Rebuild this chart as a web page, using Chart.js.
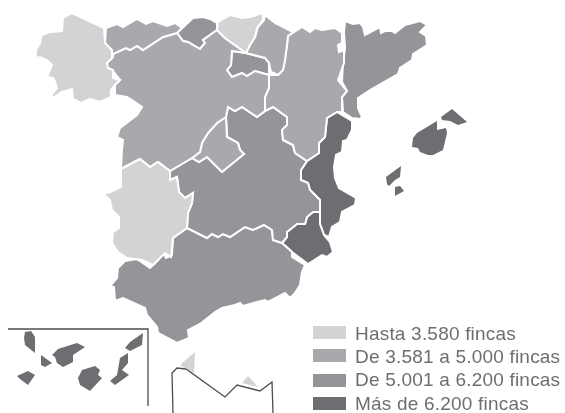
<!DOCTYPE html>
<html lang="es">
<head>
<meta charset="utf-8">
<title>Fincas por comunidad</title>
<script src="https://cdn.jsdelivr.net/npm/chart.js@4/dist/chart.umd.min.js"></script>
<style>
  html, body { margin: 0; padding: 0; background: #fff; }
  #wrap { position: relative; width: 565px; height: 413px; overflow: hidden; }
  #mapa { display: block; }
  .ley-sw { position: absolute; left: 313px; width: 33px; height: 13px; }
  .ley-tx { position: absolute; left: 355px; font: 19px/20px "Liberation Sans", sans-serif; letter-spacing: 0.2px; color: #6d6e71; white-space: nowrap; }
</style>
</head>
<body>
<div id="wrap">
  <canvas id="mapa" width="565" height="413"></canvas>
</div>
<script>
// Legend
const tramos = ['Hasta 3.580 fincas', 'De 3.581 a 5.000 fincas', 'De 5.001 a 6.200 fincas', 'Más de 6.200 fincas'];
const colores = ['#d1d3d4', '#a7a9ac', '#939598', '#6d6e71'];

// Region outlines, as [x, y] on the map axes
const galicia = [[72,13],[104,28],[105,43],[112,50],[112,58],[107,63],[108,68],[113,70],[113,78],[120,80],[115,85],[111,90],[111,97],[100,102],[90,99],[81,103],[73,99],[72,89],[62,92],[53,98],[52,104],[52,94],[57,88],[55,82],[53,78],[47,77],[52,65],[47,60],[40,57],[36,58],[36,50],[40,43],[42,35],[50,32],[62,31],[63,18]];
const asturias = [[106,28],[117,24],[123,27],[137,19],[146,24],[153,21],[167,26],[175,23],[182,28],[177,33],[163,37],[143,50],[137,46],[130,50],[126,48],[113,54],[105,43]];
const cantabria = [[177,33],[193,18],[203,17],[210,19],[217,23],[217,30],[203,40],[205,43],[200,49],[188,42],[183,41]];
const castillaLeon = [[113,54],[126,48],[130,50],[137,46],[143,50],[163,37],[177,33],[183,41],[188,42],[200,49],[205,43],[203,40],[217,30],[225,38],[246,53],[232,51],[231,65],[227,70],[232,77],[242,73],[247,76],[255,71],[269,75],[269,88],[265,97],[265,111],[257,117],[242,107],[235,111],[228,107],[226,117],[217,123],[208,133],[202,143],[200,152],[192,158],[170,171],[158,162],[150,167],[140,159],[121,169],[122,150],[123,140],[117,137],[120,128],[137,115],[142,107],[135,102],[127,97],[115,95],[115,85],[120,80],[113,71],[107,68],[107,63],[113,57]];
const paisVasco = [[218,22],[230,15],[242,18],[250,17],[263,13],[263,20],[257,28],[255,37],[250,45],[246,53],[225,38],[217,30]];
const navarra = [[265,15],[275,23],[293,32],[288,36],[287,45],[285,60],[283,70],[278,75],[271,72],[269,63],[265,58],[246,53],[250,45],[255,37],[258,27],[264,20]];
const rioja = [[232,51],[246,53],[265,58],[269,63],[269,75],[255,71],[247,76],[242,73],[232,77],[227,70],[231,65]];
const aragon = [[288,36],[302,27],[310,32],[315,28],[322,30],[335,28],[342,33],[342,43],[338,45],[339,52],[344,50],[344,63],[338,80],[347,91],[342,97],[342,112],[337,112],[327,118],[325,137],[319,143],[319,153],[307,161],[295,153],[293,145],[283,140],[282,130],[287,125],[287,117],[273,107],[265,111],[265,97],[269,88],[269,75],[278,75],[283,70],[285,60],[287,45]];
const cataluna = [[345,21],[353,24],[360,23],[363,27],[365,35],[380,27],[381,33],[385,31],[392,31],[395,33],[405,25],[420,21],[427,25],[420,32],[426,36],[427,45],[413,54],[412,60],[400,68],[398,74],[370,90],[358,98],[358,108],[362,117],[360,119],[352,118],[343,112],[342,97],[347,91],[342,82],[343,63],[345,48],[344,33]];
const madrid = [[226,117],[227,137],[238,143],[240,150],[244,154],[222,172],[213,163],[207,157],[199,162],[192,158],[200,152],[202,143],[208,133],[217,123]];
const castillaMancha = [[170,171],[192,158],[199,162],[207,157],[213,163],[222,172],[244,154],[240,150],[238,143],[227,137],[226,117],[228,107],[235,111],[242,107],[257,117],[265,111],[273,107],[287,117],[287,125],[282,130],[283,140],[293,145],[295,153],[307,161],[301,170],[301,180],[308,183],[310,190],[320,200],[320,212],[313,212],[307,217],[305,224],[297,224],[287,232],[287,237],[282,243],[273,240],[272,230],[264,225],[253,230],[245,227],[230,237],[223,234],[218,237],[212,234],[207,238],[187,228],[188,213],[192,203],[193,193],[185,198],[179,192],[177,177],[170,180]];
const extremadura = [[121,169],[140,159],[150,167],[158,162],[170,171],[170,180],[177,177],[179,192],[185,198],[193,193],[192,203],[188,213],[187,228],[173,238],[171,257],[165,253],[158,260],[153,265],[142,260],[127,258],[118,252],[112,243],[113,232],[119,228],[119,217],[112,210],[110,200],[103,194],[110,192],[121,187]];
const andalucia = [[187,228],[207,238],[212,234],[218,237],[223,234],[230,237],[245,227],[253,230],[264,225],[272,230],[273,240],[282,243],[292,252],[292,257],[305,265],[302,272],[300,285],[295,293],[290,298],[285,293],[268,302],[265,300],[257,302],[243,306],[240,303],[235,305],[222,308],[215,312],[200,324],[188,330],[189,338],[177,343],[158,333],[157,327],[147,315],[145,308],[123,298],[115,301],[114,287],[110,286],[117,278],[118,268],[125,261],[137,259],[150,268],[158,260],[163,252],[166,258],[172,255],[173,238]];
const murcia = [[313,212],[320,212],[320,224],[324,235],[330,242],[333,252],[327,257],[322,255],[308,264],[292,252],[282,243],[287,237],[287,232],[297,224],[305,224],[307,217]];
const valencia = [[337,112],[352,121],[352,130],[347,140],[343,141],[342,152],[336,155],[334,167],[335,178],[339,188],[356,198],[355,205],[342,212],[340,222],[332,227],[329,237],[324,235],[320,224],[320,200],[310,190],[308,183],[301,180],[301,170],[307,161],[319,153],[319,143],[325,137],[327,118]];

const mallorca = [[437,121],[437,130],[446,128],[447,133],[443,150],[433,155],[428,155],[420,152],[418,148],[412,147],[413,138],[417,133]];
const menorca = [[452,109],[467,122],[458,125],[450,121],[442,120],[441,117]];
const ibiza = [[401,166],[400,177],[395,180],[389,186],[387,184],[386,177]];
const formentera = [[395,187],[400,186],[404,191],[395,196]];

const laPalma = [[25,332],[31,331],[35,337],[35,353],[25,345],[24,338]];
const hierro = [[17,376],[28,371],[35,375],[28,385],[20,379]];
const gomera = [[41,355],[52,363],[45,367],[41,365]];
const tenerife = [[52,355],[58,349],[77,343],[85,347],[73,355],[73,362],[63,367],[57,363],[55,357]];
const granCanaria = [[82,370],[95,366],[100,370],[98,375],[102,378],[90,391],[80,385],[78,378]];
const fuerteventura = [[128,353],[128,363],[122,370],[129,375],[115,385],[110,381],[117,375],[120,358]];
const lanzarote = [[143,333],[142,345],[130,351],[125,348],[130,342]];

const ceuta = [[195,352],[194,373],[180,365]];
const melilla = [[248,376],[258,387],[242,383]];

// Inset frames, open lines
const marcoCanarias = [[8,329],[148,329],[148,406]];
const marcoCeutaMelilla = [[173,413],[172,373],[177,368],[186,369],[225,397],[237,385],[260,391],[272,382],[273,413]];

const toPoints = pts => pts.map(([x, y]) => ({ x, y }));

function region(pts, tramo, borde) {
  const closed = toPoints(pts.concat([pts[0]]));
  return {
    label: tramos[tramo],
    data: closed,
    showLine: true,
    fill: 'shape',
    tension: 0,
    backgroundColor: colores[tramo],
    borderColor: borde ? '#ffffff' : colores[tramo],
    borderWidth: borde ? 2 : 0,
    borderJoinStyle: 'miter',
    pointRadius: 0
  };
}

function marco(pts) {
  return {
    label: 'marco',
    data: toPoints(pts),
    showLine: true,
    fill: false,
    tension: 0,
    borderColor: '#4d4d4f',
    borderWidth: 1.3,
    pointRadius: 0
  };
}

const datasets = [
  region(galicia, 0, true), region(paisVasco, 0, true), region(extremadura, 0, true),
  region(asturias, 1, true), region(castillaLeon, 1, true), region(navarra, 1, true),
  region(aragon, 1, true), region(madrid, 1, true),
  region(cantabria, 2, true), region(rioja, 2, true), region(cataluna, 2, true),
  region(castillaMancha, 2, true), region(andalucia, 2, true),
  region(murcia, 3, true), region(valencia, 3, true),
  region(mallorca, 3, false), region(menorca, 3, false), region(ibiza, 3, false), region(formentera, 3, false),
  region(laPalma, 3, false), region(hierro, 3, false), region(gomera, 3, false), region(tenerife, 3, false),
  region(granCanaria, 3, false), region(fuerteventura, 3, false), region(lanzarote, 3, false),
  region(ceuta, 0, false), region(melilla, 0, false),
  marco(marcoCanarias), marco(marcoCeutaMelilla)
];

new Chart(document.getElementById('mapa').getContext('2d'), {
  type: 'scatter',
  data: { datasets },
  options: {
    responsive: false,
    animation: false,
    layout: { padding: 0 },
    plugins: { legend: { display: false }, tooltip: { enabled: false } },
    scales: {
      x: { type: 'linear', min: 0, max: 565, display: false },
      y: { type: 'linear', min: 0, max: 413, reverse: true, display: false }
    }
  }
});

// HTML legend
const wrap = document.getElementById('wrap');
const swatchTops = [326, 349, 374, 397];
const textTops = [324, 347, 370, 394];
tramos.forEach((t, i) => {
  const sw = document.createElement('div');
  sw.className = 'ley-sw';
  sw.style.top = swatchTops[i] + 'px';
  sw.style.background = colores[i];
  wrap.appendChild(sw);
  const tx = document.createElement('div');
  tx.className = 'ley-tx';
  tx.style.top = textTops[i] + 'px';
  tx.textContent = t;
  wrap.appendChild(tx);
});
</script>
</body>
</html>
